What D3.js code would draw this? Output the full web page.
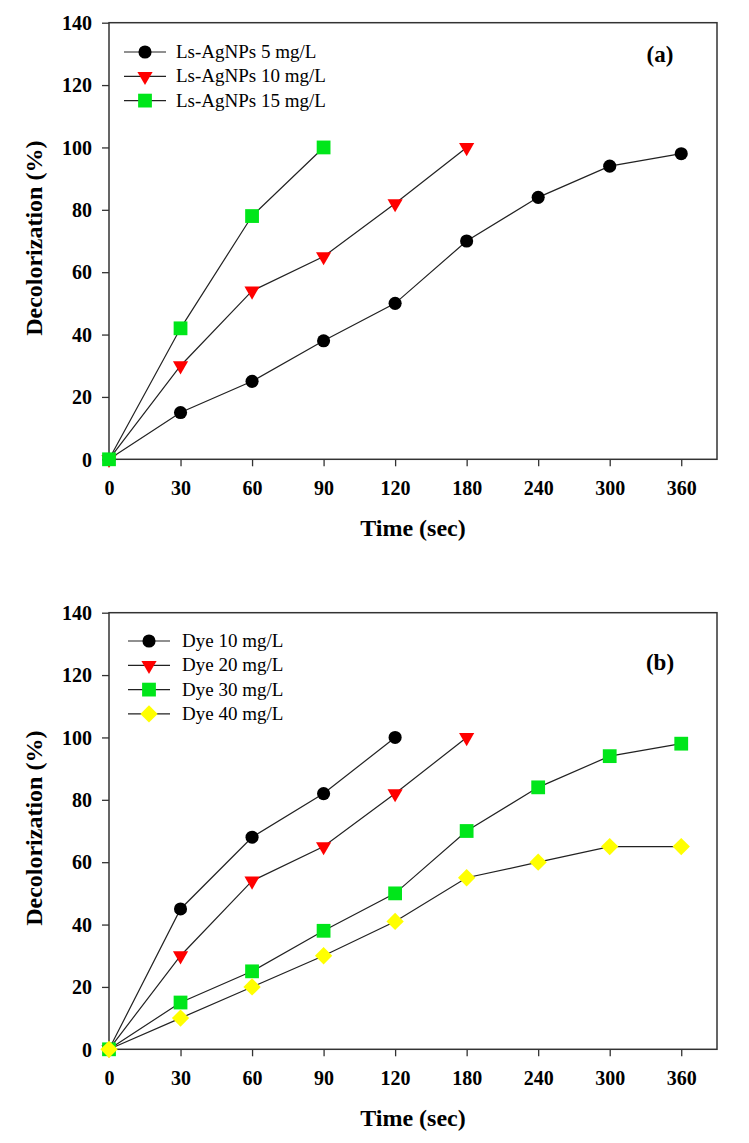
<!DOCTYPE html>
<html lang="en">
<head>
    <meta charset="UTF-8">
    <title>Decolorization vs Time</title>
    <script src="https://d3js.org/d3.v7.min.js"></script>
    <style>
        body {
            margin: 0;
            padding: 0;
            background: #fff;
        }
        .tick text {
            font-family: "Liberation Serif", "Times New Roman", serif;
            font-weight: bold;
            font-size: 20px;
            fill: #000;
        }
        .tick line {
            stroke: #333;
            stroke-width: 1.3px;
        }
        .title {
            font-family: "Liberation Serif", "Times New Roman", serif;
            font-weight: bold;
            font-size: 24px;
            fill: #000;
        }
        .panel-label {
            font-family: "Liberation Serif", "Times New Roman", serif;
            font-weight: bold;
            font-size: 23px;
            fill: #000;
        }
        .legend text {
            font-family: "Liberation Serif", "Times New Roman", serif;
            font-size: 19px;
            fill: #000;
        }
        .series-line {
            fill: none;
            stroke: #222;
            stroke-width: 1.2px;
        }
    </style>
</head>
<body>
    <div id="chart"></div>

    <script>
        // x categories (equally spaced on the axis)
        const timeLabels = ["0", "30", "60", "90", "120", "180", "240", "300", "360"];
        const yTicks = [0, 20, 40, 60, 80, 100, 120, 140];

        // panel (a): catalyst dose
        const agnps5 = [0, 15, 25, 38, 50, 70, 84, 94, 98];
        const agnps10 = [0, 30, 54, 65, 82, 100];
        const agnps15 = [0, 42, 78, 100];

        // panel (b): dye concentration
        const dye10 = [0, 45, 68, 82, 100];
        const dye20 = [0, 30, 54, 65, 82, 100];
        const dye30 = [0, 15, 25, 38, 50, 70, 84, 94, 98];
        const dye40 = [0, 10, 20, 30, 41, 55, 60, 65, 65];

        const width = 749, height = 1143;
        const svg = d3.select("#chart").append("svg")
            .attr("width", width)
            .attr("height", height);

        const markers = {
            circle: { type: d3.symbolCircle, size: 135, rotate: 0, fill: "#000" },
            triangle: { type: d3.symbolTriangle, size: 100, rotate: 180, fill: "#ff0000" },
            square: { type: d3.symbolSquare, size: 190, rotate: 0, fill: "#00e61a" },
            diamond: { type: d3.symbolSquare, size: 150, rotate: 45, fill: "#ffff00" }
        };

        const panels = [
            {
                top: 22.7, label: "(a)", labelY: 62,
                legendX: 124, legendTextX: 176, legendY: 52,
                series: [
                    { name: "Ls-AgNPs 5 mg/L", values: agnps5, marker: "circle" },
                    { name: "Ls-AgNPs 10 mg/L", values: agnps10, marker: "triangle" },
                    { name: "Ls-AgNPs 15 mg/L", values: agnps15, marker: "square" }
                ]
            },
            {
                top: 612.7, label: "(b)", labelY: 670,
                legendX: 128, legendTextX: 182, legendY: 641,
                series: [
                    { name: "Dye 10 mg/L", values: dye10, marker: "circle" },
                    { name: "Dye 20 mg/L", values: dye20, marker: "triangle" },
                    { name: "Dye 30 mg/L", values: dye30, marker: "square" },
                    { name: "Dye 40 mg/L", values: dye40, marker: "diamond" }
                ]
            }
        ];

        const left = 109, right = 717, plotH = 436.6;

        function symbolPath(m) {
            return d3.symbol().type(markers[m].type).size(markers[m].size)();
        }

        function drawPanel(p) {
            const bottom = p.top + plotH;
            const g = svg.append("g");

            const x = d3.scaleLinear()
                .domain([0, timeLabels.length - 0.5])
                .range([left, right]);
            const y = d3.scaleLinear()
                .domain([0, 140])
                .range([bottom, p.top]);

            g.append("g")
                .attr("transform", `translate(0,${bottom})`)
                .call(d3.axisBottom(x)
                    .tickValues(d3.range(timeLabels.length))
                    .tickFormat(i => timeLabels[i])
                    .tickSize(7)
                    .tickPadding(15))
                .call(a => a.select(".domain").remove());

            g.append("g")
                .attr("transform", `translate(${left},0)`)
                .call(d3.axisLeft(y)
                    .tickValues(yTicks)
                    .tickSize(7)
                    .tickPadding(10))
                .call(a => a.select(".domain").remove())
                .call(a => a.selectAll(".tick text").attr("dy", "0.34em"));

            // frame
            g.append("rect")
                .attr("x", left)
                .attr("y", p.top)
                .attr("width", right - left)
                .attr("height", plotH)
                .attr("fill", "none")
                .attr("stroke", "#333")
                .attr("stroke-width", 1.5);

            const line = d3.line()
                .x((d, i) => x(i))
                .y(d => y(d));

            p.series.forEach(s => {
                g.append("path")
                    .attr("class", "series-line")
                    .attr("d", line(s.values));
            });

            p.series.forEach(s => {
                const m = markers[s.marker];
                g.append("g")
                    .selectAll("path")
                    .data(s.values)
                    .enter().append("path")
                    .attr("d", symbolPath(s.marker))
                    .attr("fill", m.fill)
                    .attr("transform", (d, i) => `translate(${x(i)},${y(d)}) rotate(${m.rotate})`);
            });

            // legend
            const legend = g.append("g").attr("class", "legend");
            p.series.forEach((s, i) => {
                const ly = p.legendY + i * 24.3;
                const m = markers[s.marker];
                legend.append("line")
                    .attr("x1", p.legendX)
                    .attr("x2", p.legendX + 42)
                    .attr("y1", ly)
                    .attr("y2", ly)
                    .attr("stroke", "#222")
                    .attr("stroke-width", 1.2);
                legend.append("path")
                    .attr("d", symbolPath(s.marker))
                    .attr("fill", m.fill)
                    .attr("transform", `translate(${p.legendX + 21},${ly}) rotate(${m.rotate})`);
                legend.append("text")
                    .attr("x", p.legendTextX)
                    .attr("y", ly + 6)
                    .text(s.name);
            });

            g.append("text")
                .attr("class", "panel-label")
                .attr("x", 660)
                .attr("y", p.labelY)
                .attr("text-anchor", "middle")
                .text(p.label);

            g.append("text")
                .attr("class", "title")
                .attr("x", (left + right) / 2)
                .attr("y", bottom + 77)
                .attr("text-anchor", "middle")
                .text("Time (sec)");

            g.append("text")
                .attr("class", "title")
                .attr("transform", `translate(42,${p.top + 215.5}) rotate(-90)`)
                .attr("text-anchor", "middle")
                .text("Decolorization (%)");
        }

        panels.forEach(drawPanel);
    </script>
</body>
</html>
